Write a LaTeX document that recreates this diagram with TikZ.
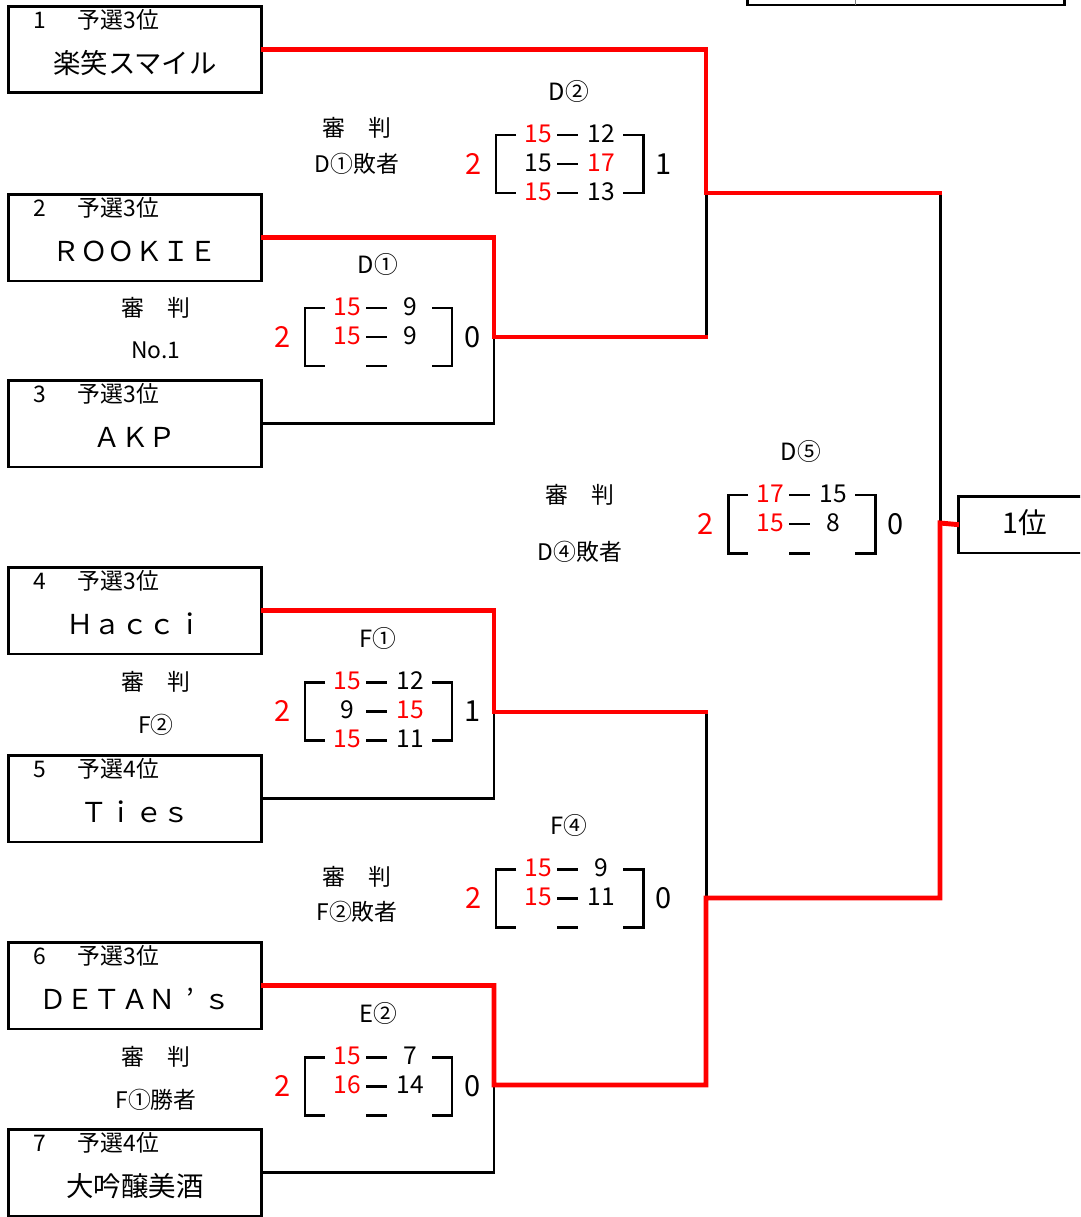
\documentclass[tikz,border=0pt]{standalone}
\usepackage{fontspec}
\setmainfont{Noto Sans CJK JP}
\usetikzlibrary{positioning}
\definecolor{winred}{RGB}{255,0,0}

\newcommand{\won}[1]{\textcolor{winred}{#1}}
% team box: name, top, no., qualifier, team
\newcommand{\team}[5]{%
  \node [team] (#1) at (135,#2+43.5) {};
  \node [head] (#1-h) at (33,#2+14) {#3\hspace{1.4em}#4};
  \node [tname] (#1-n) at (135,#2+57) {#5};}
% score frame: name, cx, top, label, left games, right games
\newcommand{\scoreframe}[6]{%
  \node [tag] (#1) at (#2,#3-44) {#4};
  \node [games, text=winred] (#1-w) at (#2-95,#3+29) {#5};
  \node [games] (#1-x) at (#2+95,#3+29) {#6};
  \draw [frame] (#2-53,#3) -- (#2-73,#3) -- (#2-73,#3+58) -- (#2-53,#3+58);
  \draw [frame] (#2+54,#3) -- (#2+74,#3) -- (#2+74,#3+58) -- (#2+54,#3+58);
  \foreach \k in {0,1,2} \draw [frame] (#2-12,#3+29*\k) -- (#2+9,#3+29*\k);}
% score row: name, cx, y, left, right
\newcommand{\scorerow}[5]{%
  \node [score] (#1-l) at (#2-31,#3) {#4};
  \node [score] (#1-r) at (#2+32,#3) {#5};}

\begin{document}
\begin{tikzpicture}[
      x=0.02cm, y=-0.02cm,
      every node/.style={inner sep=0pt},
      frame/.style={draw=black, line width=1.7pt},
      lose/.style={draw=black, line width=1.7pt},
      win/.style={draw=winred, line width=2.8pt, line cap=rect},
      team/.style={rectangle, draw, line width=1.7pt, minimum width=5.08cm, minimum height=1.74cm},
      head/.style={anchor=west, font=\fontsize{13}{13}\selectfont},
      tname/.style={font=\fontsize{15.6}{16}\selectfont},
      tag/.style={font=\fontsize{13.5}{14}\selectfont},
      refr/.style={font=\fontsize{13}{13}\selectfont},
      score/.style={font=\fontsize{14}{14}\selectfont},
      games/.style={font=\fontsize{16.5}{17}\selectfont}
    ]
    \useasboundingbox (0,0) rectangle (1080,1217);
    \clip (0,0) rectangle (1080,1217);
    % Teams
    \team{t1}{6}{1}{予選3位}{楽笑スマイル}
    \team{t2}{194}{2}{予選3位}{ＲＯＯＫＩＥ}
    \team{t3}{380}{3}{予選3位}{ＡＫＰ}
    \team{t4}{567}{4}{予選3位}{Ｈａｃｃｉ}
    \team{t5}{755}{5}{予選4位}{Ｔｉｅｓ}
    \team{t6}{942}{6}{予選3位}{ＤＥＴＡＮ\makebox[1em][c]{’}ｓ}
    \team{t7}{1129}{7}{予選4位}{大吟醸美酒}
    \node [team, minimum width=2.68cm, minimum height=1.14cm] (rank) at (1025,524.5) {};
    \node [tname, font=\fontsize{16.3}{17}\selectfont] (rank-n) at (1025,523) {1位};
    % box cut off at the top
    \draw [frame] (747,-10) rectangle (1064,5);
    \draw [gray, thin] (855,-10) -- (855,5);
    % Referees
    \node [refr] (r1) at (357,128) {審　判};
    \node [refr] (r1b) at (357,164) {D①敗者};
    \node [refr] (r2) at (156,308) {審　判};
    \node [refr] (r2b) at (156,350) {No.1};
    \node [refr] (r3) at (580,495) {審　判};
    \node [refr] (r3b) at (580,552) {D④敗者};
    \node [refr] (r4) at (156,682) {審　判};
    \node [refr] (r4b) at (156,725) {F②};
    \node [refr] (r5) at (357,877) {審　判};
    \node [refr] (r5b) at (357,912) {F②敗者};
    \node [refr] (r6) at (156,1057) {審　判};
    \node [refr] (r6b) at (156,1100) {F①勝者};
    % Scores
    \scoreframe{D2}{569}{135}{D②}{2}{1}
    \scorerow{D2a}{569}{134}{\won{15}}{12}
    \scorerow{D2b}{569}{163}{15}{\won{17}}
    \scorerow{D2c}{569}{192}{\won{15}}{13}
    \scoreframe{D1}{378}{308}{D①}{2}{0}
    \scorerow{D1a}{378}{307}{\won{15}}{9}
    \scorerow{D1b}{378}{336}{\won{15}}{9}
    \scoreframe{D5}{801}{495}{D⑤}{2}{0}
    \scorerow{D5a}{801}{494}{\won{17}}{15}
    \scorerow{D5b}{801}{523}{\won{15}}{8}
    \scoreframe{F1}{378}{682}{F①}{2}{1}
    \scorerow{F1a}{378}{681}{\won{15}}{12}
    \scorerow{F1b}{378}{710}{9}{\won{15}}
    \scorerow{F1c}{378}{739}{\won{15}}{11}
    \scoreframe{F4}{569}{869}{F④}{2}{0}
    \scorerow{F4a}{569}{868}{\won{15}}{9}
    \scorerow{F4b}{569}{897}{\won{15}}{11}
    \scoreframe{E2}{378}{1057}{E②}{2}{0}
    \scorerow{E2a}{378}{1056}{\won{15}}{7}
    \scorerow{E2b}{378}{1085}{\won{16}}{14}
    % Junctions
    \coordinate (m1) at (494,337);
    \coordinate (m2) at (706,193);
    \coordinate (m3) at (940,523);
    \coordinate (m4) at (494,712);
    \coordinate (m5) at (706,898);
    \coordinate (m6) at (494,1085);
    % Lines
    \path [lose] (t3.east) -| (m1);
    \path [lose] (m2) -- (m1 -| m2);
    \path [lose] (m2 -| m3) -- (m3);
    \path [lose] (t5.east) -| (m4);
    \path [lose] (m4 -| m5) -- (m5);
    \path [lose] (t7.east) -| (m6);
    \path [win] (t1.east) -| (m2) -- (m2 -| m3);
    \path [win] (t2.east) -| (m1) -- (m1 -| m2);
    \path [win] (t4.east) -| (m4) -- (m4 -| m5);
    \path [win] (t6.east) -| (m6) -| (m5) -- (m5 -| m3) -- (m3) -- (rank.west);
  \end{tikzpicture}
\end{document}
